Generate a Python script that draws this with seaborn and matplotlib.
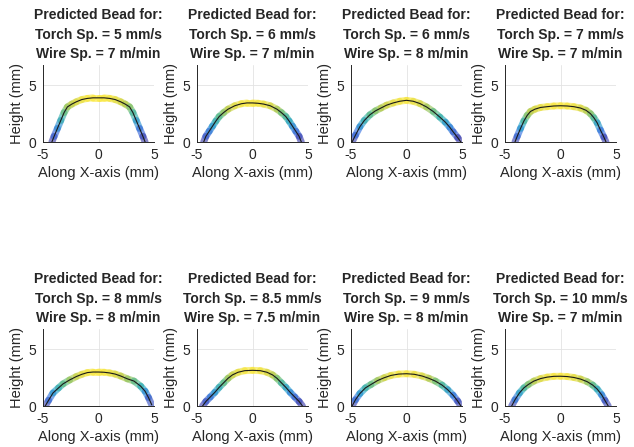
import numpy as np
import pandas as pd
import matplotlib
matplotlib.use("Agg")
import matplotlib.pyplot as plt
from matplotlib.collections import LineCollection
from matplotlib.colors import LinearSegmentedColormap, Normalize
import seaborn as sns

# process settings for each predicted bead
torch_sp = ["5", "6", "6", "7", "8", "8.5", "9", "10"]
wire_sp = ["7", "7", "8", "7", "8", "7.5", "8", "7"]

# bead profiles (x in mm, height in mm)
x1 = [-4.2, -4.0, -3.7, -3.4, -3.1, -2.8, -2.4, -2.0, -1.5, -1.0, -0.5, 0, 0.5, 1.0, 1.5, 2.0, 2.4, 2.8, 3.1, 3.4, 3.7, 4.0, 4.2]
h1 = [0, 0.5, 1.2, 1.9, 2.6, 3.1, 3.35, 3.55, 3.75, 3.85, 3.9, 3.9, 3.9, 3.85, 3.75, 3.55, 3.35, 3.1, 2.6, 1.9, 1.2, 0.5, 0]
x2 = [-4.4, -4.2, -3.9, -3.6, -3.3, -3.0, -2.6, -2.2, -1.6, -1.0, -0.5, 0, 0.5, 1.0, 1.6, 2.2, 2.6, 3.0, 3.3, 3.6, 3.9, 4.2, 4.4]
h2 = [0, 0.5, 0.95, 1.4, 1.85, 2.25, 2.6, 2.9, 3.2, 3.38, 3.45, 3.45, 3.42, 3.35, 3.2, 2.9, 2.6, 2.25, 1.85, 1.4, 0.95, 0.5, 0]
x3 = [-4.9, -4.6, -4.2, -3.8, -3.3, -2.8, -2.3, -1.8, -1.2, -0.6, 0, 0.6, 1.2, 1.8, 2.4, 3.0, 3.5, 3.9, 4.2, 4.6, 4.9]
h3 = [0, 0.6, 1.35, 1.9, 2.4, 2.75, 3.0, 3.25, 3.45, 3.6, 3.68, 3.6, 3.4, 3.1, 2.7, 2.2, 1.75, 1.3, 0.9, 0.4, 0]
x4 = [-4.1, -3.9, -3.6, -3.3, -3.0, -2.7, -2.3, -1.8, -1.2, -0.6, 0, 0.6, 1.2, 1.8, 2.3, 2.7, 3.0, 3.3, 3.6, 3.9, 4.1]
h4 = [0, 0.5, 1.2, 1.85, 2.35, 2.7, 2.9, 3.05, 3.12, 3.18, 3.2, 3.18, 3.12, 3.0, 2.8, 2.5, 2.15, 1.7, 1.05, 0.45, 0]
x5 = [-4.8, -4.5, -4.1, -3.6, -3.2, -2.6, -2.0, -1.5, -1.0, -0.5, 0, 0.5, 1.0, 1.5, 2.0, 2.6, 3.2, 3.8, 4.2, 4.5, 4.8]
h5 = [0, 0.5, 1.15, 1.6, 1.95, 2.3, 2.6, 2.8, 2.95, 3.0, 3.0, 2.98, 2.92, 2.82, 2.65, 2.4, 2.2, 1.75, 1.3, 0.75, 0.1]
x6 = [-4.5, -4.2, -3.8, -3.4, -3.0, -2.6, -2.2, -1.8, -1.3, -0.7, 0, 0.7, 1.3, 1.8, 2.2, 2.6, 3.0, 3.4, 3.8, 4.2, 4.5]
h6 = [0, 0.4, 0.8, 1.2, 1.65, 2.05, 2.45, 2.75, 2.98, 3.12, 3.15, 3.12, 2.98, 2.75, 2.45, 2.05, 1.65, 1.2, 0.8, 0.4, 0]
x7 = [-4.9, -4.6, -4.2, -3.7, -3.2, -2.6, -2.0, -1.4, -0.7, 0, 0.7, 1.4, 2.0, 2.6, 3.2, 3.7, 4.2, 4.6, 4.9]
h7 = [0, 0.55, 1.1, 1.6, 1.9, 2.25, 2.5, 2.7, 2.82, 2.85, 2.8, 2.65, 2.45, 2.2, 1.85, 1.45, 0.95, 0.45, 0]
x8 = [-4.4, -4.1, -3.7, -3.3, -2.9, -2.4, -1.8, -1.2, -0.6, 0, 0.6, 1.2, 1.8, 2.4, 2.9, 3.3, 3.7, 4.0, 4.3]
h8 = [0, 0.55, 1.15, 1.6, 1.9, 2.2, 2.42, 2.55, 2.62, 2.63, 2.6, 2.52, 2.38, 2.15, 1.85, 1.5, 1.0, 0.5, 0]

profiles_x = [x1, x2, x3, x4, x5, x6, x7, x8]
profiles_h = [h1, h2, h3, h4, h5, h6, h7, h8]

# parula-like colours as they appear in the picture
bead_cmap = LinearSegmentedColormap.from_list("bead", [
    (0.00, (0.22, 0.14, 0.58)), (0.25, (0.16, 0.40, 0.88)),
    (0.50, (0.08, 0.64, 0.76)), (0.70, (0.32, 0.72, 0.46)),
    (0.85, (0.72, 0.78, 0.22)), (1.00, (0.98, 0.90, 0.18))])

sns.set_theme(style="white")
plt.rcParams['font.family'] = ['Liberation Sans', 'DejaVu Sans']
plt.rcParams['axes.unicode_minus'] = False

fig = plt.figure(figsize=(6.34, 4.47), dpi=100)

W, H = 634.0, 447.0
col_left = [43, 197, 351, 505]
row_top = [65, 329]
ax_w, ax_h = 111, 77

for k in range(8):
    r, c = divmod(k, 4)
    ax = fig.add_axes([col_left[c] / W, 1 - (row_top[r] + ax_h) / H, ax_w / W, ax_h / H])

    xs = np.array(profiles_x[k])
    hs = np.array(profiles_h[k])

    # coloured band of predicted points
    pts = np.column_stack([xs, hs]).reshape(-1, 1, 2)
    segs = np.concatenate([pts[:-1], pts[1:]], axis=1)
    mid_h = (hs[:-1] + hs[1:]) / 2
    lc = LineCollection(segs, cmap=bead_cmap, norm=Normalize(0, hs.max()),
                        linewidths=5, alpha=0.6, capstyle='round', joinstyle='round')
    lc.set_array(mid_h)
    ax.add_collection(lc)

    # mean profile
    df = pd.DataFrame({"x": xs, "h": hs})
    sns.lineplot(data=df, x="x", y="h", sort=False, color="#1a1a1a", lw=0.8, ax=ax)

    ax.set_xlim(-5, 5)
    ax.set_ylim(0, 6.8)
    ax.set_xticks([-5, 0, 5])
    ax.set_yticks([0, 5])
    ax.grid(True, color="#e3e3e3", lw=0.6)
    for s in ["top", "right"]:
        ax.spines[s].set_visible(False)
    for s in ["left", "bottom"]:
        ax.spines[s].set_color("#262626")
        ax.spines[s].set_linewidth(0.7)
    ax.tick_params(direction="in", length=2.5, width=0.6, labelsize=10,
                   colors="#262626")
    ax.tick_params(axis="x", pad=4.5)
    ax.tick_params(axis="y", pad=5)
    ax.set_xlabel("Along X-axis (mm)", fontsize=10.5, color="#262626", labelpad=3)
    ax.set_ylabel("Height (mm)", fontsize=10.5, color="#262626", labelpad=3)
    ax.set_title("Predicted Bead for:\nTorch Sp. = %s mm/s\nWire Sp. = %s m/min"
                 % (torch_sp[k], wire_sp[k]),
                 fontsize=10, fontweight="bold", linespacing=1.5, pad=5)

fig.savefig("out.png", dpi=100)
